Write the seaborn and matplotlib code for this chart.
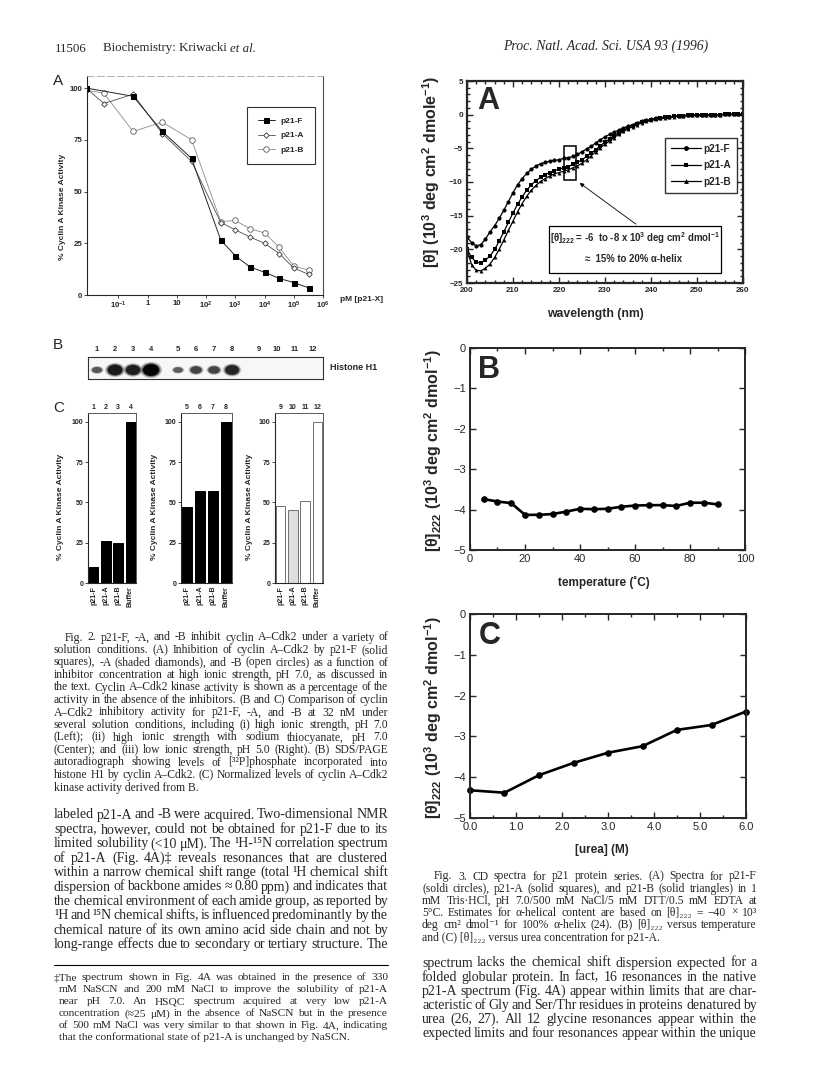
import numpy as np
import pandas as pd
import matplotlib
matplotlib.use("Agg")
import matplotlib.pyplot as plt
import seaborn as sns
from matplotlib import font_manager
from matplotlib.patches import Ellipse, Rectangle
from matplotlib.ticker import MultipleLocator, NullLocator

# ---------------- data ----------------
# Fig 2A: % cyclin A kinase activity vs pM [p21-X]
f_conc = [0.008, 0.32, 3.2, 32, 320, 1000, 3200, 10000, 32000, 100000, 320000]
f_act = [100, 96, 79, 66, 26.5, 19, 13.5, 11, 8, 6, 3.5]
a_conc = [0.008, 0.032, 0.32, 3.2, 32, 320, 1000, 3200, 10000, 32000, 100000, 320000]
a_act = [100, 92.5, 97, 78, 64.5, 35, 31.5, 28, 25, 20, 13, 10]
b_conc = [0.008, 0.032, 0.32, 3.2, 32, 320, 1000, 3200, 10000, 32000, 100000, 320000]
b_act = [99, 97.5, 79, 83.5, 75, 35.5, 36, 32, 30, 23, 14, 12]
xtick_vals = [0.1, 1, 10, 100, 1e3, 1e4, 1e5, 1e6]
xtick_labels = ["$10^{-1}$", "1", "10", "$10^2$", "$10^3$", "$10^4$", "$10^5$", "$10^6$"]

# Fig 2B: gel band intensity (relative)
lanes = [str(i) for i in range(1, 13)]
band_int = [0.35, 0.85, 0.8, 1.0, 0.3, 0.5, 0.5, 0.75, 0, 0, 0, 0]

# Fig 2C: normalized kinase activity
bar_labels = ["p21-F", "p21-A", "p21-B", "Buffer"]
left_vals = [10, 26, 25, 100]
center_vals = [47, 57, 57, 100]
right_vals = [48, 45.5, 51, 100]

# Fig 3A: CD spectra
wl = list(range(200, 261))
cd_f = [-18.2, -19.0, -19.5, -19.3, -18.5, -17.4, -16.5, -15.4, -14.2, -12.9,
        -11.6, -10.4, -9.5, -8.7, -8.1, -7.6, -7.3, -7.1, -6.9, -6.8,
        -6.7, -6.5, -6.4, -6.2, -5.9, -5.5, -5.1, -4.7, -4.2, -3.7,
        -3.3, -2.9, -2.6, -2.3, -2.0, -1.7, -1.5, -1.2, -1.0, -0.85,
        -0.7, -0.55, -0.45, -0.35, -0.3, -0.25, -0.2, -0.15, -0.1, -0.08,
        -0.05, -0.03, 0.0, 0.0, 0.0, 0.02, 0.03, 0.03, 0.05, 0.05, 0.05]
cd_a = [-20.0, -21.2, -21.9, -22.0, -21.6, -21.0, -20.0, -18.8, -17.4, -16.0,
        -14.6, -13.3, -12.2, -11.2, -10.4, -9.8, -9.3, -8.9, -8.6, -8.3,
        -8.1, -7.9, -7.7, -7.4, -7.1, -6.7, -6.2, -5.7, -5.2, -4.6,
        -4.1, -3.6, -3.1, -2.7, -2.3, -2.0, -1.7, -1.4, -1.15, -0.95,
        -0.8, -0.65, -0.5, -0.4, -0.32, -0.26, -0.2, -0.15, -0.1, -0.08,
        -0.05, -0.03, 0.0, 0.0, 0.0, 0.02, 0.03, 0.03, 0.05, 0.05, 0.05]
cd_b = [-20.0, -22.3, -23.1, -23.2, -22.8, -22.2, -21.2, -20.0, -18.6, -17.2,
        -15.8, -14.4, -13.2, -12.1, -11.2, -10.5, -9.9, -9.5, -9.1, -8.8,
        -8.6, -8.4, -8.2, -7.9, -7.6, -7.2, -6.7, -6.1, -5.5, -4.9,
        -4.4, -3.9, -3.4, -2.9, -2.5, -2.1, -1.8, -1.5, -1.2, -1.0,
        -0.85, -0.7, -0.55, -0.45, -0.35, -0.28, -0.22, -0.16, -0.12, -0.08,
        -0.05, -0.03, 0.0, 0.0, 0.0, 0.02, 0.03, 0.03, 0.05, 0.05, 0.05]

# Fig 3B: [theta]222 vs temperature
temps = [5, 10, 15, 20, 25, 30, 35, 40, 45, 50, 55, 60, 65, 70, 75, 80, 85, 90]
theta_t = [-3.74, -3.80, -3.84, -4.13, -4.13, -4.11, -4.05, -3.98, -3.99, -3.98,
           -3.93, -3.90, -3.89, -3.89, -3.91, -3.83, -3.83, -3.87]

# Fig 3C: [theta]222 vs urea
urea = [0.0, 0.75, 1.5, 2.25, 3.0, 3.75, 4.5, 5.25, 6.0]
theta_u = [-4.32, -4.38, -3.95, -3.65, -3.40, -3.24, -2.84, -2.72, -2.39]

# ---------------- text ----------------
cap2 = ["Fig. 2.   p21-F, -A, and -B inhibit cyclin A–Cdk2 under a variety of",
        "solution conditions. (A) Inhibition of cyclin A–Cdk2 by p21-F (solid",
        "squares), -A (shaded diamonds), and -B (open circles) as a function of",
        "inhibitor concentration at high ionic strength, pH 7.0, as discussed in",
        "the text. Cyclin A–Cdk2 kinase activity is shown as a percentage of the",
        "activity in the absence of the inhibitors. (B and C) Comparison of cyclin",
        "A–Cdk2 inhibitory activity for p21-F, -A, and -B at 32 nM under",
        "several solution conditions, including (i) high ionic strength, pH 7.0",
        "(Left); (ii) high ionic strength with sodium thiocyanate, pH 7.0",
        "(Center); and (iii) low ionic strength, pH 5.0 (Right). (B) SDS/PAGE",
        "autoradiograph showing levels of [³²P]phosphate incorporated into",
        "histone H1 by cyclin A–Cdk2. (C) Normalized levels of cyclin A–Cdk2",
        "kinase activity derived from B."]
body_left = ["labeled p21-A and -B were acquired. Two-dimensional NMR",
             "spectra, however, could not be obtained for p21-F due to its",
             "limited solubility (<10 μM). The ¹H-¹⁵N correlation spectrum",
             "of p21-A (Fig. 4A)‡ reveals resonances that are clustered",
             "within a narrow chemical shift range (total ¹H chemical shift",
             "dispersion of backbone amides ≈ 0.80 ppm) and indicates that",
             "the chemical environment of each amide group, as reported by",
             "¹H and ¹⁵N chemical shifts, is influenced predominantly by the",
             "chemical nature of its own amino acid side chain and not by",
             "long-range effects due to secondary or tertiary structure. The"]
foot = ["‡The spectrum shown in Fig. 4A was obtained in the presence of 330",
        "mM NaSCN and 200 mM NaCl to improve the solubility of p21-A",
        "near pH 7.0. An HSQC spectrum acquired at very low p21-A",
        "concentration (≈25 μM) in the absence of NaSCN but in the presence",
        "of 500 mM NaCl was very similar to that shown in Fig. 4A, indicating",
        "that the conformational state of p21-A is unchanged by NaSCN."]
cap3 = ["Fig. 3.   CD spectra for p21 protein series. (A) Spectra for p21-F",
        "(soldi circles), p21-A (solid squares), and p21-B (solid triangles) in 1",
        "mM Tris·HCl, pH 7.0/500 mM NaCl/5 mM DTT/0.5 mM EDTA at",
        "5°C. Estimates for α-helical content are based on [θ]₂₂₂ = −40 × 10³",
        "deg cm² dmol⁻¹ for 100% α-helix (24). (B) [θ]₂₂₂ versus temperature",
        "and (C) [θ]₂₂₂ versus urea concentration for p21-A."]
body_right = ["spectrum lacks the chemical shift dispersion expected for a",
              "folded globular protein. In fact, 16 resonances in the native",
              "p21-A spectrum (Fig. 4A) appear within limits that are char-",
              "acteristic of Gly and Ser/Thr residues in proteins denatured by",
              "urea (26, 27). All 12 glycine resonances appear within the",
              "expected limits and four resonances appear within the unique"]

# ---------------- style ----------------
sns.set_style("ticks")
names = {f.name for f in font_manager.fontManager.ttflist}
SANS = "Liberation Sans" if "Liberation Sans" in names else "DejaVu Sans"
NARROW = "Liberation Sans Narrow" if "Liberation Sans Narrow" in names else SANS
SERIF = ["Liberation Serif", "DejaVu Serif"]
plt.rcParams["font.family"] = [SANS, "DejaVu Sans"]
plt.rcParams["mathtext.fontset"] = "custom"
plt.rcParams["mathtext.rm"] = SANS
plt.rcParams["mathtext.bf"] = SANS + ":bold"
plt.rcParams["mathtext.default"] = "bf"

W, H = 816, 1082
fig = plt.figure(figsize=(W / 100, H / 100), dpi=100)
fig.patch.set_facecolor("white")
renderer = fig.canvas.get_renderer()


def box(x0, y0, x1, y1):
    return [x0 / W, 1 - y1 / H, (x1 - x0) / W, (y1 - y0) / H]


def fx(x):
    return x / W


def fy(y):
    return 1 - y / H


# ---------------- Fig 2A ----------------
axA = fig.add_axes(box(87, 76, 323, 295))
axA.set_xscale("log")
sns.lineplot(x=b_conc, y=b_act, ax=axA, color="0.55", lw=0.6, marker="o", markersize=4,
             markerfacecolor="white", markeredgecolor="0.35", markeredgewidth=0.6, label="b")
sns.lineplot(x=a_conc, y=a_act, ax=axA, color="0.3", lw=0.6, marker="D", markersize=2.8,
             markerfacecolor="white", markeredgecolor="0.2", markeredgewidth=0.6, label="a")
sns.lineplot(x=f_conc, y=f_act, ax=axA, color="0.15", lw=0.7, marker="s", markersize=3.6,
             markerfacecolor="k", markeredgecolor="k", label="f")
h, l = axA.get_legend_handles_labels()
leg = axA.legend([h[2], h[1], h[0]], ["p21-F", "p21-A", "p21-B"], loc="center",
                 bbox_to_anchor=(0.822, 0.728), frameon=True, fancybox=False,
                 prop={"family": SANS, "weight": "bold", "size": 6}, borderpad=1.3,
                 labelspacing=0.75, handlelength=2.0, handletextpad=0.7, borderaxespad=0)
leg.get_frame().set_edgecolor("k")
leg.get_frame().set_linewidth(0.8)
axA.set_xlim(10 ** -2.07, 1e6)
axA.set_ylim(0, 105.8)
axA.xaxis.set_minor_locator(NullLocator())
axA.set_xticks(xtick_vals, labels=xtick_labels)
axA.set_yticks([0, 25, 50, 75, 100])
axA.tick_params(axis="both", labelsize=5.6, length=2, width=0.6, pad=1.5)
for t in axA.get_xticklabels() + axA.get_yticklabels():
    t.set_fontweight("bold")
axA.set_ylabel("% Cyclin A Kinase Activity", fontsize=6, fontweight="bold")
axA.yaxis.set_label_coords(-0.09, 0.40)
axA.set_xlabel("")
axA.text(1.072, -0.02, "pM [p21-X]", transform=axA.transAxes, fontsize=6,
         fontweight="bold", ha="left", va="center")
for s in ["left", "bottom"]:
    axA.spines[s].set_linewidth(0.8)
axA.spines["right"].set_linewidth(0.8)
axA.spines["right"].set_color("0.3")
axA.spines["top"].set_linewidth(0.6)
axA.spines["top"].set_color("0.65")
axA.spines["top"].set_linestyle((0, (8, 4)))
fig.text(fx(53), fy(81), "A", fontsize=11, ha="left", va="center")

# ---------------- Fig 2B gel ----------------
axG = fig.add_axes(box(88, 357, 323, 379))
lane_pos = [i + 0.5 * (i // 4) for i in range(len(lanes))]
for xp, inten in zip(lane_pos, band_int):
    if inten <= 0:
        continue
    for grow, alpha in [(1.35, 0.25), (1.15, 0.45), (1.0, 0.95)]:
        w = (0.35 + 0.55 * inten) * grow
        hgt = (0.12 + 0.42 * inten) * grow
        shade = 0.5 * (1 - inten)
        axG.add_patch(Ellipse((xp, 0.41), w, hgt, facecolor=str(shade),
                              edgecolor="none", alpha=alpha))
axG.set_xlim(-0.5, 12.55)
axG.set_ylim(0, 1)
axG.set_facecolor("#f7f7f7")
axG.set_xticks(lane_pos, labels=lanes)
axG.xaxis.tick_top()
axG.tick_params(axis="x", length=0, pad=3, labelsize=5.5)
for t in axG.get_xticklabels():
    t.set_fontweight("bold")
axG.set_yticks([])
for s in axG.spines.values():
    s.set_linewidth(0.8)
    s.set_color("0.2")
fig.text(fx(330), fy(368), "Histone H1", fontsize=6.5, fontweight="bold", va="center")
fig.text(fx(53), fy(345), "B", fontsize=11, ha="left", va="center")

# ---------------- Fig 2C bars ----------------
bar_sets = [
    (box(88, 413, 136, 583), left_vals, ["1", "2", "3", "4"], ["k"] * 4, "k", (-0.5, 0.45)),
    (box(181, 413, 232, 583), center_vals, ["5", "6", "7", "8"], ["k"] * 4, "k", (-0.45, 0.45)),
    (box(275, 413, 323, 583), right_vals, ["9", "10", "11", "12"],
     ["white", "0.87", "white", "white"], "0.45", (-0.45, 0.45)),
]
for rect, vals, nums, colors, ec, lab_xy in bar_sets:
    ax = fig.add_axes(rect)
    sns.barplot(x=bar_labels, y=vals, hue=bar_labels, palette=colors, legend=False,
                ax=ax, width=0.76, saturation=1, edgecolor=ec, linewidth=0.7)
    ax.set_xlim(-0.45, 3.45)
    ax.set_ylim(0, 105.5)
    ax.set_yticks([0, 25, 50, 75, 100])
    ax.tick_params(axis="y", labelsize=5, length=2, width=0.6, pad=1.5)
    ax.tick_params(axis="x", labelsize=5, length=0, pad=2, labelrotation=90)
    for t in ax.get_xticklabels() + ax.get_yticklabels():
        t.set_fontweight("bold")
    ax.set_xlabel("")
    ax.set_ylabel("% Cyclin A Kinase Activity", fontsize=6, fontweight="bold")
    ax.yaxis.set_label_coords(*lab_xy)
    top = ax.secondary_xaxis("top")
    top.set_xticks(range(4), labels=nums)
    top.tick_params(length=0, pad=1.5, labelsize=5)
    for t in top.get_xticklabels():
        t.set_fontweight("bold")
    for s in ["left", "bottom"]:
        ax.spines[s].set_linewidth(0.8)
    for s in ["top", "right"]:
        ax.spines[s].set_visible(True)
        ax.spines[s].set_linewidth(0.7)
        ax.spines[s].set_color("0.35")
    top.spines["top"].set_visible(False)
fig.text(fx(53), fy(408), "C", fontsize=11, ha="left", va="center")

# ---------------- Fig 3A CD spectra ----------------
axS = fig.add_axes(box(467, 81, 743, 283))
sns.lineplot(x=wl, y=cd_f, ax=axS, color="k", lw=0.9, marker="o", markersize=3.0,
             markeredgewidth=0, label="p21-F")
sns.lineplot(x=wl, y=cd_a, ax=axS, color="k", lw=0.9, marker="s", markersize=2.8,
             markeredgewidth=0, label="p21-A")
sns.lineplot(x=wl, y=cd_b, ax=axS, color="k", lw=0.9, marker="^", markersize=2.8,
             markeredgewidth=0, label="p21-B")
leg = axS.legend(loc="center", bbox_to_anchor=(0.848, 0.584), frameon=True, fancybox=False,
                 prop={"family": SANS, "weight": "bold", "size": 7.2}, borderpad=0.6,
                 labelspacing=0.65, handlelength=3.0, handletextpad=0.3, borderaxespad=0)
leg.get_frame().set_edgecolor("k")
leg.get_frame().set_linewidth(1.0)
for ln in leg.get_lines():
    ln.set_markersize(3.5)
axS.set_xlim(200, 260)
axS.set_ylim(-25, 5)
axS.xaxis.set_major_locator(MultipleLocator(10))
axS.xaxis.set_minor_locator(MultipleLocator(2))
axS.yaxis.set_major_locator(MultipleLocator(5))
axS.yaxis.set_minor_locator(MultipleLocator(1))
axS.tick_params(which="both", direction="in", top=True, right=True, width=1.0)
axS.tick_params(which="major", length=4, labelsize=5.8, pad=3)
axS.tick_params(which="minor", length=2)
for t in axS.get_xticklabels() + axS.get_yticklabels():
    t.set_fontweight("bold")
for s in axS.spines.values():
    s.set_linewidth(1.6)
axS.set_xlabel("wavelength (nm)", fontsize=8.8, fontweight="bold")
axS.xaxis.set_label_coords(0.464, -0.124)
axS.set_ylabel("[θ] (10$^3$ deg cm$^2$ dmole$^{-1}$)", fontsize=11.5, fontweight="bold")
axS.yaxis.set_label_coords(-0.09, 0.55)
axS.text(0.036, 0.975, "A", transform=axS.transAxes, fontsize=22, fontweight="bold",
         family=NARROW, ha="left", va="top")
axS.add_patch(Rectangle((221.1, -9.7), 2.5, 5.0, fill=False, lw=1.1, ec="k"))
axS.add_patch(Rectangle((217.8, -23.5), 37.4, 7.0, fc="white", lw=0.9, ec="k", zorder=4))
axS.text(236.5, -18.3, "[θ]$_{222}$ = -6  to -8 x 10$^3$ deg cm$^2$ dmol$^{-1}$", fontsize=6.9,
         fontweight="bold", ha="center", va="center", zorder=5)
axS.text(236.3, -21.4, "≈  15% to 20% α-helix", fontsize=6.9, fontweight="bold",
         ha="center", va="center", zorder=5)
axS.annotate("", xy=(224.0, -9.9), xytext=(237.2, -16.5),
             arrowprops=dict(arrowstyle="-|>", lw=0.6, color="k", mutation_scale=6))


# ---------------- Fig 3B / 3C ----------------
def small_panel(rect, x, y, xlim, xmaj, xmin, xfmt, xlabel, lab_x, lab_y, letter):
    ax = fig.add_axes(rect)
    sns.lineplot(x=x, y=y, ax=ax, color="k", lw=1.9, marker="o", markersize=4.8,
                 markeredgewidth=0, clip_on=False)
    ax.set_xlim(*xlim)
    ax.set_ylim(-5, 0)
    ax.xaxis.set_major_locator(MultipleLocator(xmaj))
    ax.xaxis.set_minor_locator(MultipleLocator(xmin))
    ax.yaxis.set_major_locator(MultipleLocator(1))
    ax.xaxis.set_major_formatter(xfmt)
    ax.tick_params(which="both", direction="in", top=True, right=True, width=1.0)
    ax.tick_params(which="major", length=4, labelsize=8, pad=3)
    ax.tick_params(which="minor", length=2)
    for t in ax.get_xticklabels() + ax.get_yticklabels():
        t.set_family(NARROW)
    for s in ax.spines.values():
        s.set_linewidth(1.4)
    ax.set_xlabel(xlabel, fontsize=8.5, fontweight="bold", family=NARROW)
    ax.xaxis.set_label_coords(lab_x, lab_y)
    ax.set_ylabel("[θ]$_{222}$ (10$^3$ deg cm$^2$ dmol$^{-1}$)", fontsize=11.5,
                  fontweight="bold")
    ax.yaxis.set_label_coords(-0.095, 0.49)
    ax.text(0.03, 0.965, letter, transform=ax.transAxes, fontsize=22, fontweight="bold",
            family=NARROW, ha="left", va="top")
    return ax


small_panel(box(470, 348, 745, 550), temps, theta_t, (0, 100), 20, 10, "{x:.0f}",
            "temperature (˚C)", 0.487, -0.13, "B")
small_panel(box(470, 614, 746, 818), urea, theta_u, (0, 6), 1, 0.5, "{x:.1f}",
            "[urea] (M)", 0.478, -0.125, "C")


# ---------------- page text ----------------
def text_block(lines, x0, x1, y0, step, size, indents=None, ragged_last=True, style="normal"):
    for k, line in enumerate(lines):
        y = y0 + k * step
        xs = x0 + (indents[k] if indents else 0)
        words = line.split()
        if (ragged_last and k == len(lines) - 1) or len(words) == 1:
            fig.text(fx(xs), fy(y), line, fontsize=size, family=SERIF, style=style,
                     ha="left", va="center_baseline")
            continue
        fs = size
        while True:
            ts = [fig.text(0, 0, w, fontsize=fs, family=SERIF, style=style,
                           ha="left", va="center_baseline") for w in words]
            widths = [t.get_window_extent(renderer).width for t in ts]
            gap = (x1 - xs - sum(widths)) / (len(words) - 1)
            if gap >= 0.16 * fs or fs < size * 0.85:
                break
            for t in ts:
                t.remove()
            fs *= 0.98
        xc = xs
        for t, w in zip(ts, widths):
            t.set_position((fx(xc), fy(y)))
            xc += w + gap


fig.text(fx(55), fy(47), "11506", fontsize=9.3, family=SERIF, va="center_baseline")
t_head = fig.text(fx(103), fy(47), "Biochemistry: Kriwacki ", fontsize=9.3, family=SERIF,
                  va="center_baseline")
head_w = t_head.get_window_extent(renderer).width
fig.text(fx(103 + head_w), fy(47), "et al.", fontsize=9.3, family=SERIF, style="italic",
         va="center_baseline")
fig.text(fx(503), fy(45), "Proc. Natl. Acad. Sci. USA 93 (1996)", fontsize=9.9,
         family=SERIF, style="italic", va="center_baseline")

text_block(cap2, 54, 388, 636, 12.5, 8.4, indents=[11] + [0] * 12)
text_block(body_left, 54, 388, 813.5, 14.4, 10.0, ragged_last=False)
fig.add_artist(plt.Line2D([fx(54), fx(388)], [fy(965), fy(965)], color="k", lw=0.8))
text_block(foot, 54, 388, 977, 11.9, 8.2, indents=[0] + [5] * 5)
text_block(cap3, 422, 757, 875, 12.2, 8.4, indents=[12] + [0] * 5)
text_block(body_right, 422, 757, 961.5, 14.1, 10.0, ragged_last=False)

fig.savefig("out.png", dpi=100, facecolor="white")
